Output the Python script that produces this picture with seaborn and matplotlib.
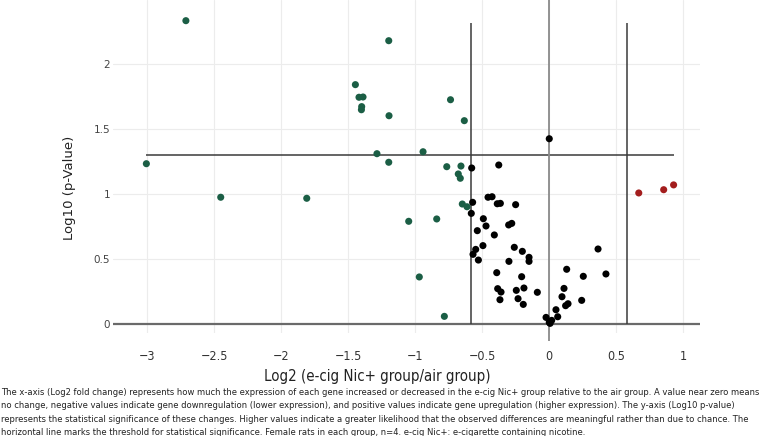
import matplotlib
matplotlib.use("Agg")
import matplotlib.pyplot as plt
from matplotlib import font_manager
from matplotlib.font_manager import FontProperties
import seaborn as sns
import pandas as pd

# ---- data ----
green_x = [-2.71, -1.196, -1.445, -1.418, -1.388, -1.398, -1.40, -1.194, -0.735, -0.632,
           -1.284, -0.94, -3.005, -1.196, -0.763, -0.657, -0.677, -0.662, -2.45, -1.808,
           -0.647, -0.612, -1.047, -0.838, -0.968, -0.781]
green_y = [2.333, 2.179, 1.841, 1.744, 1.746, 1.672, 1.648, 1.602, 1.725, 1.564,
           1.31, 1.325, 1.233, 1.244, 1.21, 1.215, 1.154, 1.121, 0.975, 0.967,
           0.923, 0.902, 0.79, 0.808, 0.362, 0.059]
red_x = [0.67, 0.856, 0.93]
red_y = [1.008, 1.033, 1.07]
black_x = [0.002, -0.577, -0.375, -0.455, -0.425, -0.57, -0.386, -0.363, -0.249, -0.58,
           -0.49, -0.47, -0.301, -0.278, -0.535, -0.408, -0.547, -0.493, -0.259, -0.199,
           -0.567, -0.527, -0.149, -0.149, -0.299, 0.366, 0.132, 0.425, 0.256, -0.39,
           -0.204, -0.383, -0.358, -0.244, -0.187, -0.087, 0.112, 0.097, -0.366, -0.231,
           -0.192, 0.244, 0.124, 0.142, 0.052, -0.022, 0.065, 0.02, 0.002, 0.008]
black_y = [1.425, 1.2, 1.223, 0.975, 0.979, 0.936, 0.925, 0.928, 0.918, 0.851,
           0.81, 0.754, 0.762, 0.774, 0.718, 0.685, 0.574, 0.603, 0.59, 0.559,
           0.536, 0.492, 0.513, 0.482, 0.482, 0.577, 0.421, 0.385, 0.367, 0.395,
           0.364, 0.272, 0.246, 0.259, 0.277, 0.244, 0.274, 0.21, 0.187, 0.195,
           0.151, 0.182, 0.141, 0.156, 0.11, 0.051, 0.056, 0.028, 0.013, 0.005]
groups = ["down", "up", "ns"]
palette = {"down": "#1b5e45", "up": "#a31d1d", "ns": "#000000"}
threshold = 1.301
fc_cut = 0.585
x_ticks = [-3, -2.5, -2, -1.5, -1, -0.5, 0, 0.5, 1]
y_ticks = [0, 0.5, 1, 1.5, 2]
x_title = "Log2 (e-cig Nic+ group/air group)"
y_title = "Log10 (p-Value)"
caption = [
    "The x-axis (Log2 fold change) represents how much the expression of each gene increased or decreased in the e-cig Nic+ group relative to the air group. A value near zero means",
    "no change, negative values indicate gene downregulation (lower expression), and positive values indicate gene upregulation (higher expression). The y-axis (Log10 p-value)",
    "represents the statistical significance of these changes. Higher values indicate a greater likelihood that the observed differences are meaningful rather than due to chance. The",
    "horizontal line marks the threshold for statistical significance. Female rats in each group, n=4. e-cig Nic+: e-cigarette containing nicotine.",
]

df = pd.concat([
    pd.DataFrame({"x": green_x, "y": green_y, "g": groups[0]}),
    pd.DataFrame({"x": red_x, "y": red_y, "g": groups[1]}),
    pd.DataFrame({"x": black_x, "y": black_y, "g": groups[2]}),
], ignore_index=True)

sns.set_theme(style="white")
plt.rcParams["font.family"] = ["DejaVu Sans"]

# pick a narrow / condensed face if one is installed, else a fairly narrow sans
narrow_file = None
for f in font_manager.fontManager.ttflist:
    nm = f.name.lower()
    if (("narrow" in nm or "condensed" in nm or str(f.stretch) in ("condensed", "semi-condensed"))
            and f.style == "normal" and f.weight in (400, "normal", "regular")):
        if narrow_file is None or "liberation" in nm:
            narrow_file = f.fname


def narrow_fp(size):
    if narrow_file:
        return FontProperties(fname=narrow_file, size=size)
    return FontProperties(family=["Roboto", "DejaVu Sans"], size=size)


W, H = 762, 436
fig = plt.figure(figsize=(W / 100, H / 100), dpi=100)
L, R, T, B = 113, 700, 0, 333
ax = fig.add_axes([L / W, 1 - B / H, (R - L) / W, (B - T) / H])

x0, x1 = -3.254, 1.127
y0, y1 = -0.069, 2.492
ax.set_xlim(x0, x1)
ax.set_ylim(y0, y1)

for xv in x_ticks:
    ax.axvline(xv, color="#ececec", lw=0.8, zorder=0)
for yv in y_ticks[1:]:
    ax.axhline(yv, color="#ececec", lw=0.8, zorder=0)

ax.axhline(0, color="#6a6a6a", lw=1.6, zorder=1)

ax.hlines(threshold, df["x"].min(), df["x"].max(), color="#3a3a3a", lw=1.1, zorder=2)
ax.vlines([-fc_cut, fc_cut], 0, df["y"].max() - 0.02, color="#3a3a3a", lw=1.1, zorder=2)
ax.vlines(0, -0.13, y1, color="#8a8a8a", lw=1.3, zorder=2, clip_on=False)

sns.scatterplot(data=df, x="x", y="y", hue="g", palette=palette, s=26,
                edgecolor="none", legend=False, ax=ax, zorder=3)

for s in ax.spines.values():
    s.set_visible(False)

ax.set_xticks(x_ticks)
ax.set_xticklabels([("\u2212" + f"{abs(v):g}") if v < 0 else f"{v:g}" for v in x_ticks],
                   color="#333333", fontproperties=narrow_fp(9))
ax.set_yticks(y_ticks)
ax.set_yticklabels([f"{v:g}" for v in y_ticks], fontsize=7.5, color="#444444")
ax.tick_params(axis="both", length=0)
ax.tick_params(axis="x", pad=12)
ax.tick_params(axis="y", pad=2)
ax.set_xlabel("")
ax.set_ylabel("")

renderer = fig.canvas.get_renderer()


def fitted_text(x, y, s, target_w, base, **kw):
    t = fig.text(x, y, s, fontproperties=narrow_fp(base), **kw)
    w = t.get_window_extent(renderer).width
    t.set_fontproperties(narrow_fp(base * target_w / w))
    return t


fitted_text(377 / W, 1 - 376 / H, x_title, 226, 11.5, ha="center", va="center", color="#222222")
fig.text(70 / W, 1 - 188 / H, y_title, ha="center", va="center", rotation=90,
         fontsize=9.5, color="#222222")

# caption: size fitted so that the first line spans the figure width
probe = fig.text(0, 0, caption[0], fontproperties=narrow_fp(10))
cap_size = 10 * 758 / probe.get_window_extent(renderer).width
probe.remove()
for i, line in enumerate(caption):
    fig.text(1 / W, 1 - (392 + 13.5 * i) / H, line, ha="left", va="center",
             fontproperties=narrow_fp(cap_size), color="#222222")

fig.savefig("out.png", dpi=100)
